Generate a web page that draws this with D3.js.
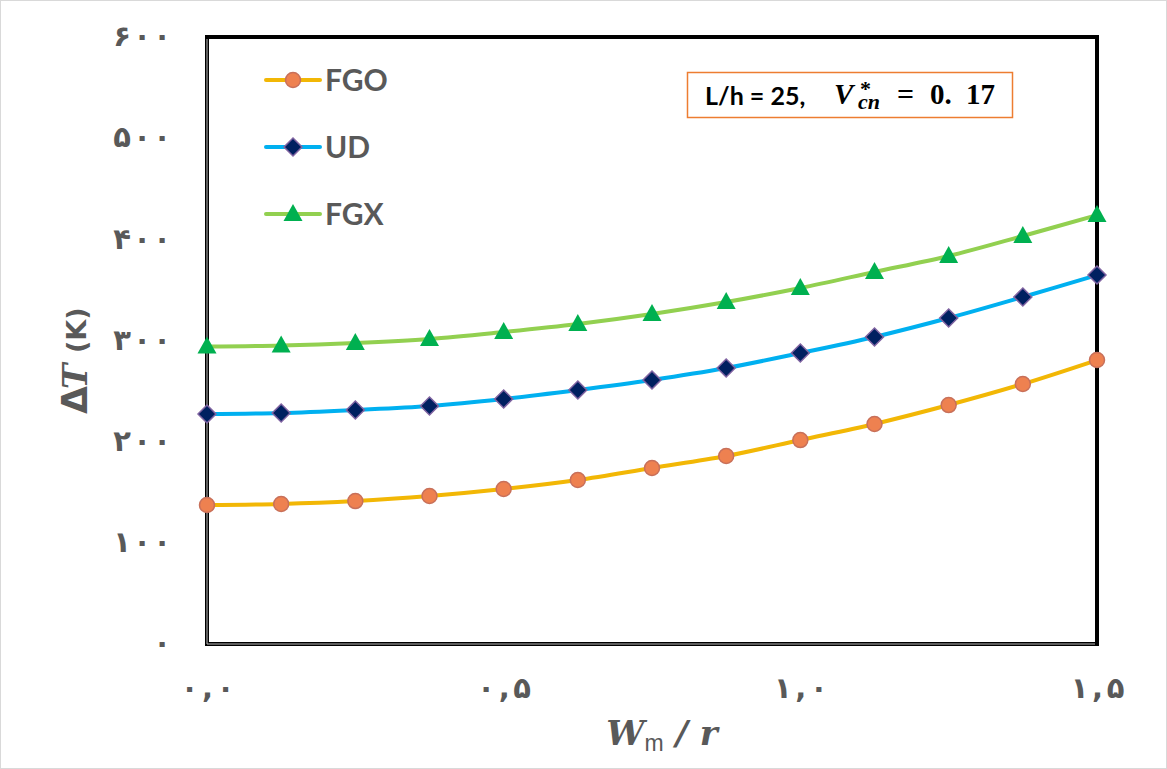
<html>
<head>
  <title></title>
  <script src="https://cdn.jsdelivr.net/npm/d3@7/dist/d3.min.js"></script>
<style type="text/css">
body { margin: 0; background: #fff; }
</style>
</head>
<body>
<script type="text/javascript">
// values, x = Wm / r
var xs = [0, 0.125, 0.25, 0.375, 0.5, 0.625, 0.75, 0.875, 1.0, 1.125, 1.25, 1.375, 1.5];
var fgo = [137.4, 138.4, 141.3, 146.3, 153.2, 162.1, 174.0, 185.8, 201.6, 217.5, 236.2, 257.0, 280.7];
var ud  = [227.3, 228.3, 231.3, 235.2, 242.2, 251.1, 261.0, 272.8, 287.6, 303.5, 322.2, 343.0, 364.7];
var fgx = [294.0, 295.0, 297.5, 301.5, 308.4, 316.3, 326.2, 338.0, 351.9, 367.7, 383.5, 403.3, 424.0];

var yTicks = [0, 100, 200, 300, 400, 500, 600];
var yTickLabels = ['۰', '۱۰۰', '۲۰۰', '۳۰۰', '۴۰۰', '۵۰۰', '۶۰۰'];
var xTicks = [0, 0.5, 1.0, 1.5];
var xTickLabels = ['۰,۰', '۰,۵', '۱,۰', '۱,۵'];

var w = 1167, h = 769;
var pl = 207, pr = 1097, pt = 37, pb = 644;

var svg = d3.select('body').append('svg')
  .attr('width', w)
  .attr('height', h);

// outer chart border
svg.append('rect')
  .attr('x', 0.5).attr('y', 0.5)
  .attr('width', w - 1).attr('height', h - 1)
  .attr('fill', 'white')
  .attr('stroke', '#d9d9d9');

var x = d3.scaleLinear().domain([0, 1.5]).range([pl, pr]);
var y = d3.scaleLinear().domain([0, 600]).range([pb, pt]);

// plot frame
svg.append('rect')
  .attr('x', pl).attr('y', pt)
  .attr('width', pr - pl).attr('height', pb - pt)
  .attr('fill', 'none')
  .attr('stroke', 'black')
  .attr('stroke-width', 4);
// lighter centre on left and bottom edges (double line look)
svg.append('path')
  .attr('d', 'M' + pl + ',' + (pt + 2) + 'V' + pb + 'H' + (pr - 2))
  .attr('fill', 'none')
  .attr('stroke', '#bbb')
  .attr('stroke-width', 1);

// spread the characters of a label out (letter-spacing is not applied to arabic digits)
function spread(sel, step, anchor) {
  sel.each(function() {
    var t = d3.select(this);
    var chars = Array.from(t.text());
    t.text(null).attr('text-anchor', 'middle');
    chars.forEach(function(c, i) {
      var off = anchor == 'end' ? -(chars.length - 1 - i) * step : (i - (chars.length - 1) / 2) * step;
      t.append('tspan').attr('x', off).text(c);
    });
  });
}

// y axis labels
var yAxis = d3.axisLeft(y).tickValues(yTicks)
  .tickFormat(function(d, i) { return yTickLabels[i]; })
  .tickSize(0).tickPadding(0);
var gy = svg.append('g').attr('transform', 'translate(' + 162 + ',0)').call(yAxis);
gy.select('.domain').remove();
gy.selectAll('text')
  .attr('font-family', 'DejaVu Sans')
  .attr('font-weight', 'bold')
  .attr('font-size', 29)
  .attr('dy', '0.3em')
  .attr('fill', '#595959')
  .call(spread, 20, 'end');

var xAxis = d3.axisBottom(x).tickValues(xTicks)
  .tickFormat(function(d, i) { return xTickLabels[i]; })
  .tickSize(0).tickPadding(0);
var gx = svg.append('g').attr('transform', 'translate(0,' + 698 + ')').call(xAxis);
gx.select('.domain').remove();
gx.selectAll('text')
  .attr('font-family', 'DejaVu Sans')
  .attr('font-weight', 'bold')
  .attr('font-size', 29)
  .attr('dy', 0)
  .attr('fill', '#595959')
  .call(spread, 18, 'middle');

// axis titles
var xt = svg.append('text')
  .attr('x', 662).attr('y', 745)
  .attr('text-anchor', 'middle')
  .attr('font-family', 'DejaVu Serif')
  .attr('font-weight', 'bold')
  .attr('font-size', 34)
  .attr('fill', '#595959');
xt.append('tspan').attr('font-style', 'italic').text('W');
xt.append('tspan').attr('font-family', 'Liberation Sans').attr('font-weight', 'normal')
  .attr('font-size', 23).attr('dy', 6).text('m');
xt.append('tspan').attr('dy', -6).attr('font-style', 'italic').text(' / r');

var yt = svg.append('g').attr('transform', 'translate(87,0) rotate(-90)');
yt.append('text')
  .attr('x', -414).attr('y', 0)
  .attr('font-family', 'DejaVu Sans')
  .attr('font-weight', 'bold')
  .attr('font-size', 36)
  .attr('fill', '#595959')
  .text('Δ');
yt.append('text')
  .attr('x', -389).attr('y', 0)
  .attr('font-family', 'DejaVu Serif')
  .attr('font-weight', 'bold')
  .attr('font-style', 'italic')
  .attr('font-size', 34)
  .attr('fill', '#595959')
  .text('T');
yt.append('text')
  .attr('x', -353).attr('y', -1)
  .attr('font-family', 'DejaVu Sans')
  .attr('font-weight', 'bold')
  .attr('font-size', 27)
  .attr('fill', '#595959')
  .text('(K)');

var series = [
  { name: 'FGO', vals: fgo, line: '#f2b705', fill: '#ee8150', stroke: '#c8705a', shape: 'circle' },
  { name: 'UD', vals: ud, line: '#00b0f0', fill: '#002060', stroke: '#8064a2', shape: 'diamond' },
  { name: 'FGX', vals: fgx, line: '#92d050', fill: '#00b050', stroke: 'none', shape: 'triangle' }
];

var line = d3.line()
  .x(function(d, i) { return x(xs[i]); })
  .y(function(d) { return y(d); })
  .curve(d3.curveCatmullRom);

function marker(g, s, cx, cy) {
  if (s.shape == 'circle') {
    g.append('circle').attr('cx', cx).attr('cy', cy).attr('r', 7.5)
      .attr('fill', s.fill).attr('stroke', s.stroke).attr('stroke-width', 1.5);
  } else if (s.shape == 'diamond') {
    g.append('path')
      .attr('d', 'M' + cx + ',' + (cy - 9) + 'L' + (cx + 9) + ',' + cy + 'L' + cx + ',' + (cy + 9) + 'L' + (cx - 9) + ',' + cy + 'Z')
      .attr('fill', s.fill).attr('stroke', s.stroke).attr('stroke-width', 1.5);
  } else {
    g.append('path')
      .attr('d', 'M' + cx + ',' + (cy - 10) + 'L' + (cx + 9.5) + ',' + (cy + 7) + 'L' + (cx - 9.5) + ',' + (cy + 7) + 'Z')
      .attr('fill', s.fill);
  }
}

series.forEach(function(s, k) {
  svg.append('path')
    .datum(s.vals)
    .attr('d', line)
    .attr('fill', 'none')
    .attr('stroke', s.line)
    .attr('stroke-width', 4);
  var g = svg.append('g');
  s.vals.forEach(function(v, i) { marker(g, s, x(xs[i]), y(v)); });

  // legend
  var ly = 80 + k * 67;
  svg.append('line')
    .attr('x1', 266).attr('x2', 320).attr('y1', ly).attr('y2', ly)
    .attr('stroke', s.line).attr('stroke-width', 4).attr('stroke-linecap', 'round');
  marker(svg.append('g'), s, 293, ly);
  svg.append('text')
    .attr('x', 325).attr('y', ly + 11)
    .attr('font-family', 'Lato')
    .attr('font-weight', 'bold')
    .attr('font-size', 30)
    .attr('fill', '#595959')
    .text(s.name);
});

// annotation box
svg.append('rect')
  .attr('x', 687.5).attr('y', 72.5)
  .attr('width', 325).attr('height', 45)
  .attr('fill', 'white')
  .attr('stroke', '#ed7d31')
  .attr('stroke-width', 1.5);
svg.append('text')
  .attr('x', 705).attr('y', 105)
  .attr('font-family', 'Lato')
  .attr('font-weight', 'bold')
  .attr('font-size', 25)
  .attr('fill', 'black')
  .text('L/h = 25,');
var mathTxt = [
  { t: 'V', x: 834, y: 104, size: 29, italic: true },
  { t: '*', x: 860, y: 96, size: 22, italic: false },
  { t: 'cn', x: 858, y: 109, size: 22, italic: true },
  { t: '=', x: 897, y: 104, size: 30, italic: false },
  { t: '0.', x: 930, y: 104, size: 29, italic: false },
  { t: '17', x: 966, y: 104, size: 29, italic: false }
];
mathTxt.forEach(function(m) {
  svg.append('text')
    .attr('x', m.x).attr('y', m.y)
    .attr('font-family', 'Liberation Serif')
    .attr('font-weight', 'bold')
    .attr('font-style', m.italic ? 'italic' : 'normal')
    .attr('font-size', m.size)
    .attr('fill', 'black')
    .text(m.t);
});

</script>
</body>
</html>
